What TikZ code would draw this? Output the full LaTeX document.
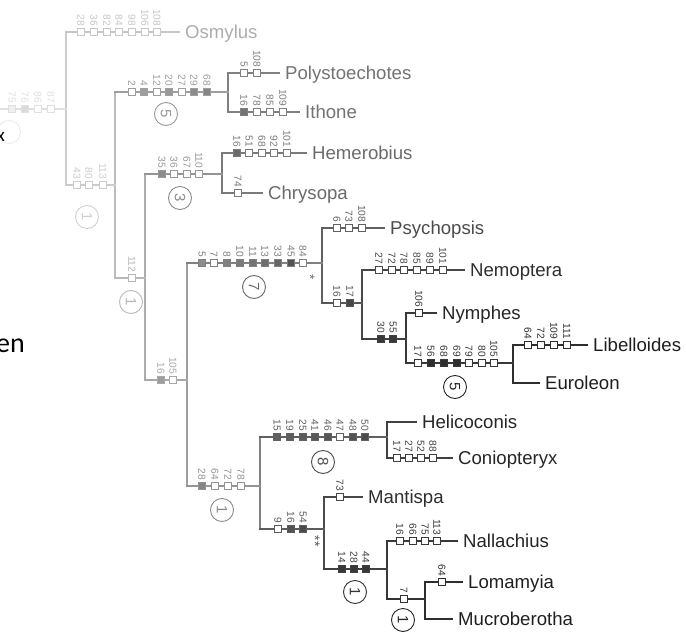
\documentclass[tikz,border=0pt]{standalone}
\usepackage{fontspec}
\setmainfont{Liberation Sans}
\newfontfamily\calib{Carlito}
\newcommand\chrow[4]{%
  \foreach \px/\lab/\fc [count=\i] in {#4} {%
    \node[cb=#3, fill=\fc] (#1\i) at (\px,#2) {};
    \node[nl=#3] (#1n\i) at (\px,#2-5.5) {\lab};
  }}
\begin{document}
\begin{tikzpicture}[x=1pt,y=-1pt,
  ln/.style={draw=black!#1, line width=1.1pt, line cap=rect},
  cb/.style={rectangle, draw=black!#1, minimum size=7.5pt, inner sep=0pt, line width=0.9pt},
  nl/.style={text=black!#1, rotate=-90, anchor=east, inner sep=0pt, font=\fontsize{10.2}{11}\selectfont},
  cn/.style={circle, draw=black!#1, text=black!#1, rotate=-90, minimum size=23pt, inner sep=0pt, line width=0.9pt, font=\fontsize{15}{15}\selectfont},
  tx/.style={anchor=west, text=black!#1, inner xsep=6pt, inner ysep=0pt, text height=13pt, text depth=0pt, font=\fontsize{18.6}{19}\selectfont},
  star/.style={text=black!#1, rotate=-90, inner sep=0pt, font=\fontsize{14}{14}\selectfont},
  art/.style={anchor=base east, inner sep=0pt, text=black, font=\calib\fontsize{#1}{#1}\selectfont}
]
\useasboundingbox (0,0) rectangle (686,634);
\fill[white] (0,0) rectangle (686,634);

% branch points
\coordinate (r0) at (0,109);
\coordinate (n1a) at (66,32); \coordinate (n1m) at (66,109); \coordinate (n1b) at (66,185);
\coordinate (n2a) at (115,92); \coordinate (n2m) at (115,185); \coordinate (n2b) at (115,278);
\coordinate (n3a) at (228,73); \coordinate (n3m) at (228,92); \coordinate (n3b) at (228,112);
\coordinate (n4a) at (145,174); \coordinate (n4m) at (145,278); \coordinate (n4b) at (145,380);
\coordinate (n5a) at (222,153); \coordinate (n5m) at (222,174); \coordinate (n5b) at (222,193);
\coordinate (n6a) at (187,263); \coordinate (n6m) at (187,380); \coordinate (n6b) at (187,486);
\coordinate (n7a) at (322,228); \coordinate (n7m) at (322,263); \coordinate (n7b) at (322,303);
\coordinate (n8a) at (362,270); \coordinate (n8m) at (362,303); \coordinate (n8b) at (362,339);
\coordinate (n9a) at (406,313); \coordinate (n9m) at (406,339); \coordinate (n9b) at (406,363);
\coordinate (n10a) at (513,345); \coordinate (n10m) at (513,363); \coordinate (n10b) at (513,383);
\coordinate (n11a) at (260,437); \coordinate (n11m) at (260,486); \coordinate (n11b) at (260,529);
\coordinate (n12a) at (387,422); \coordinate (n12m) at (387,437); \coordinate (n12b) at (387,458);
\coordinate (n13a) at (324,497); \coordinate (n13m) at (324,529); \coordinate (n13b) at (324,569);
\coordinate (n14a) at (387,541); \coordinate (n14m) at (387,569); \coordinate (n14b) at (387,599);
\coordinate (n15a) at (425,582); \coordinate (n15m) at (425,599); \coordinate (n15b) at (425,619);

% taxa
\node[tx=32] (osm) at (179,32) {Osmylus};
\node[tx=55] (pol) at (279,73) {Polystoechotes};
\node[tx=55] (ith) at (299,112) {Ithone};
\node[tx=58] (hem) at (306,153) {Hemerobius};
\node[tx=58] (chr) at (262,193) {Chrysopa};
\node[tx=70] (psy) at (384,228) {Psychopsis};
\node[tx=82] (nem) at (464,270) {Nemoptera};
\node[tx=85] (nym) at (436,313) {Nymphes};
\node[tx=88] (lib) at (587,345) {Libelloides};
\node[tx=88] (eur) at (539,383) {Euroleon};
\node[tx=85] (hel) at (416,422) {Helicoconis};
\node[tx=85] (con) at (452,458) {Coniopteryx};
\node[tx=82] (man) at (362,497) {Mantispa};
\node[tx=85] (nal) at (457,541) {Nallachius};
\node[tx=88] (lom) at (462,582) {Lomamyia};
\node[tx=88] (muc) at (452,619) {Mucroberotha};

% vertical lines
\draw[ln=20] (n1a) -- (n1b);
\draw[ln=26] (n2a) -- (n2b);
\draw[ln=50] (n3a) -- (n3b);
\draw[ln=32] (n4a) -- (n4b);
\draw[ln=52] (n5a) -- (n5b);
\draw[ln=38] (n6a) -- (n6b);
\draw[ln=62] (n7a) -- (n7b);
\draw[ln=72] (n8a) -- (n8b);
\draw[ln=78] (n9a) -- (n9b);
\draw[ln=82] (n10a) -- (n10b);
\draw[ln=50] (n11a) -- (n11b);
\draw[ln=75] (n12a) -- (n12b);
\draw[ln=70] (n13a) -- (n13b);
\draw[ln=78] (n14a) -- (n14b);
\draw[ln=82] (n15a) -- (n15b);

% internal stems
\draw[ln=12] (r0) -- (n1m);
\draw[ln=20] (n1b) -- (n2m);
\draw[ln=38] (n2a) -- (n3m);
\draw[ln=28] (n2b) -- (n4m);
\draw[ln=42] (n4a) -- (n5m);
\draw[ln=34] (n4b) -- (n6m);
\draw[ln=50] (n6a) -- (n7m);
\draw[ln=66] (n7b) -- (n8m);
\draw[ln=75] (n8b) -- (n9m);
\draw[ln=78] (n9b) -- (n10m);
\draw[ln=42] (n6b) -- (n11m);
\draw[ln=62] (n11a) -- (n12m);
\draw[ln=64] (n11b) -- (n13m);
\draw[ln=75] (n13b) -- (n14m);
\draw[ln=80] (n14b) -- (n15m);

% terminal branches
\draw[ln=22] (n1a) -- (osm);
\draw[ln=50] (n3a) -- (pol);
\draw[ln=50] (n3b) -- (ith);
\draw[ln=52] (n5a) -- (hem);
\draw[ln=52] (n5b) -- (chr);
\draw[ln=62] (n7a) -- (psy);
\draw[ln=72] (n8a) -- (nem);
\draw[ln=78] (n9a) -- (nym);
\draw[ln=82] (n10a) -- (lib);
\draw[ln=82] (n10b) -- (eur);
\draw[ln=75] (n12a) -- (hel);
\draw[ln=75] (n12b) -- (con);
\draw[ln=72] (n13a) -- (man);
\draw[ln=78] (n14a) -- (nal);
\draw[ln=82] (n15a) -- (lom);
\draw[ln=82] (n15b) -- (muc);

% character boxes
\chrow{r}{109}{12}{12/75/black!6, 25/76/black!14, 38/86/white, 51/87/white}
\chrow{o}{32}{22}{81/28/white, 94/36/white, 107/82/white, 119/84/white, 132/98/white, 145/106/white, 157/108/white}
\chrow{a}{185}{20}{77/43/white, 89/80/white, 103/113/white}
\chrow{p}{92}{38}{132/2/white, 144/4/black!38, 157/12/white, 169/20/black!40, 182/27/white, 194/29/black!45, 207/68/black!48}
\chrow{ps}{73}{50}{244/5/white, 257/108/white}
\chrow{it}{112}{50}{244/16/black!55, 257/78/white, 270/85/white, 283/109/white}
\chrow{q}{278}{28}{132/112/white}
\chrow{h}{174}{40}{162/35/black!45, 174/36/white, 187/67/white, 199/110/white}
\chrow{he}{153}{52}{237/16/black!58, 249/51/white, 262/68/white, 274/92/white, 287/101/white}
\chrow{ch}{193}{52}{238/74/white}
\chrow{s}{380}{34}{161/16/black!38, 173/105/white}
\chrow{m}{263}{50}{202/5/black!45, 214/7/white, 227/8/black!50, 240/10/black!52, 253/11/black!55, 265/13/black!57, 278/33/black!60, 291/45/black!68, 303/84/white}
\chrow{py}{228}{62}{337/6/white, 349/73/white, 362/108/white}
\chrow{u}{303}{66}{337/16/white, 350/17/black!72}
\chrow{ne}{270}{72}{379/27/white, 392/72/white, 404/78/white, 417/85/white, 430/89/white, 443/101/white}
\chrow{v}{339}{75}{381/30/black!78, 393/55/black!78}
\chrow{ny}{313}{78}{419/106/white}
\chrow{w}{363}{78}{418/17/white, 431/56/black!82, 444/68/black!82, 457/69/black!82, 469/79/white, 482/80/white, 494/105/white}
\chrow{li}{345}{82}{528/64/white, 541/72/white, 554/109/white, 567/111/white}
\chrow{k}{486}{42}{202/28/black!48, 215/64/white, 228/72/white, 241/78/white}
\chrow{hc}{437}{62}{277/15/black!62, 290/19/black!63, 303/25/black!64, 315/41/black!65, 328/46/black!66, 340/47/white, 353/48/black!68, 365/50/black!70}
\chrow{co}{458}{75}{397/17/white, 409/27/white, 421/52/white, 433/88/white}
\chrow{z}{529}{64}{278/9/white, 291/16/black!68, 303/54/black!70}
\chrow{ma}{497}{72}{340/73/white}
\chrow{y}{569}{75}{342/14/black!78, 354/28/black!78, 366/44/black!78}
\chrow{na}{541}{78}{400/16/white, 413/66/white, 425/75/white, 437/113/white}
\chrow{sv}{599}{80}{404/7/white}
\chrow{lo}{582}{82}{442/64/white}

% circled numbers
\node[cn=8] (c1) at (9,132) {};
\node[cn=18] (c2) at (87,217) {1};
\node[cn=40] (c3) at (166,114) {5};
\node[cn=27] (c4) at (131,302) {1};
\node[cn=45] (c5) at (180,198) {3};
\node[cn=58] (c6) at (254,287) {7};
\node[cn=85] (c7) at (455,387) {5};
\node[cn=45] (c8) at (222,510) {1};
\node[cn=70] (c9) at (323,462) {8};
\node[cn=80] (c10) at (355,592) {1};
\node[cn=85] (c11) at (403,620) {1};

% asterisks
\node[star=55] (st1) at (310,277) {*};
\node[star=65] (st2) at (315,541) {**};

% fragments of overlapping text
\node[art=19] (artx) at (5,142) {x};
\node[art=28] (arten) at (25,352) {en};
\end{tikzpicture}
\end{document}
